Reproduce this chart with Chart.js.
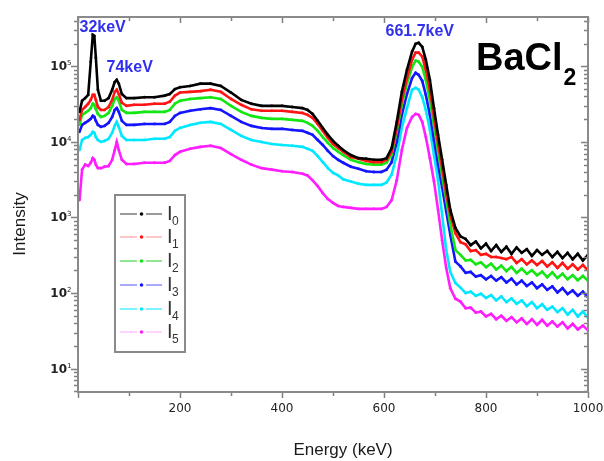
<!DOCTYPE html>
<html>
<head>
<meta charset="utf-8">
<title>BaCl2 gamma spectra</title>
<script src="https://cdn.jsdelivr.net/npm/chart.js@4.4.1/dist/chart.umd.min.js"></script>
<style>
  body { margin: 0; background: #fff; }
  #wrap { width: 604px; height: 461px; }
</style>
</head>
<body>
<div id="wrap"><canvas id="spectrum" width="604" height="461"></canvas></div>
<script>
// Energy channels (keV) shared by every spectrum
var energy = [3, 8, 14, 20, 25, 29, 32, 35, 39, 45, 52, 60, 67, 72, 76, 80, 86, 95,
  110, 130, 150, 170, 180, 190, 200, 220, 240, 260, 280, 300, 320, 340, 360, 380, 400, 420, 440,
  450, 460, 470, 480, 490, 500, 510, 520, 535, 550, 565, 580, 595,
  605, 615, 625, 635, 645, 655, 662, 668, 675, 682, 690, 698, 706, 714, 722, 730,
  740, 750, 760, 770, 780, 790, 800, 810, 820, 830, 840, 850, 860, 870, 880, 890, 900,
  910, 920, 930, 940, 950, 960, 970, 980, 990, 1000];

// Intensities
var i0 = [25000, 35000, 38000, 42000, 115000, 261000, 253000, 130000, 49000, 35000, 35000, 38000, 49000, 62000, 66000, 59000, 43000, 38000,
  38000, 39000, 39000, 41000, 43000, 50000, 53000, 55000, 59000, 59000, 55000, 45000, 36000, 32000, 30000, 30000, 30000, 29000, 28000,
  26500, 23500, 19000, 15300, 12400, 10300, 8900, 7800, 6700, 6100, 6000, 5800, 5800,
  6100, 8300, 18400, 46000, 90000, 156000, 199000, 205000, 181000, 122000, 66000, 28000, 12400, 5800, 2700, 1260,
  730, 560, 520, 430, 480, 390, 450, 360, 430, 350, 410, 330, 400, 340, 380, 310, 370,
  320, 360, 300, 350, 290, 340, 280, 330, 270, 320];
var i1 = [19600, 26500, 29000, 32000, 36000, 42000, 42000, 36000, 29000, 26500, 26500, 29000, 36000, 46000, 49000, 43000, 33000, 30000,
  31000, 31000, 32000, 32000, 34000, 41000, 45000, 46000, 47000, 49000, 46000, 37000, 31000, 27000, 25800, 25800, 25800, 25000, 24200,
  22800, 20800, 17300, 14000, 11300, 9400, 8300, 7400, 6300, 6000, 5600, 5400, 5400,
  5800, 7400, 15300, 36000, 70000, 122000, 152000, 152000, 134000, 90000, 49000, 21400, 9700, 4500, 2100, 1080,
  620, 470, 440, 360, 370, 320, 330, 300, 300, 290, 280, 300, 250, 280, 240, 270, 235,
  265, 225, 255, 215, 250, 210, 240, 205, 235, 200];
var i2 = [16800, 22800, 24200, 25800, 28000, 32000, 31000, 27000, 23500, 21400, 22100, 24200, 30000, 37000, 39000, 35000, 26500, 24200,
  24200, 25000, 25000, 25000, 26500, 32000, 35000, 37000, 38000, 39000, 37000, 30000, 25000, 22100, 20800, 20200, 20200, 19600, 19000,
  17900, 16300, 14000, 11600, 9700, 8300, 7400, 6700, 5800, 5400, 5100, 5000, 5000,
  5300, 6700, 13600, 31000, 59000, 98000, 119000, 115000, 98000, 66000, 36000, 16300, 7400, 3500, 1700, 800,
  370, 320, 270, 275, 240, 255, 220, 245, 205, 230, 195, 222, 185, 210, 180, 200, 172,
  192, 162, 188, 158, 180, 152, 172, 148, 168, 145];
var i3 = [13600, 16800, 17900, 19000, 20200, 22100, 21400, 19000, 16800, 15800, 16300, 17900, 21400, 26500, 28000, 25000, 19000, 16800,
  16800, 17300, 17300, 17300, 18400, 22100, 24200, 25800, 27000, 28000, 26500, 22100, 18400, 16300, 15300, 14900, 14900, 14400, 14000,
  13200, 12400, 10600, 9100, 7600, 6500, 5800, 5300, 4700, 4400, 4100, 4000, 4000,
  4300, 5400, 10000, 22800, 43000, 70000, 82000, 77000, 64000, 42000, 22800, 10600, 5000, 2500, 1200, 590,
  260, 225, 185, 190, 165, 172, 152, 168, 146, 162, 138, 155, 130, 146, 124, 138, 116,
  130, 110, 122, 102, 116, 97, 108, 92, 104, 88];
var i4 = [7800, 10600, 11300, 11600, 12400, 13600, 13200, 11600, 10600, 10000, 10300, 11000, 13200, 16300, 18400, 15800, 12000, 10600,
  10600, 10600, 11000, 11000, 11600, 14000, 15300, 16800, 17900, 18400, 17300, 14400, 12000, 10600, 10000, 9400, 9100, 8900, 8600,
  8100, 7600, 6500, 5400, 4500, 3900, 3600, 3200, 3000, 2800, 2700, 2700, 2700,
  2900, 3700, 6700, 15300, 28000, 49000, 52000, 49000, 39000, 26500, 14400, 6700, 3100, 1080, 370, 190,
  136, 118, 100, 104, 92, 98, 86, 94, 80, 90, 76, 85, 72, 80, 67, 76, 63,
  71, 60, 66, 56, 63, 52, 60, 49, 57, 47];
var i5 = [1700, 4300, 5000, 4800, 5300, 6100, 5800, 5000, 4500, 4500, 4700, 4800, 5800, 7800, 10000, 7800, 5800, 5100,
  5100, 5300, 5300, 5300, 5600, 6700, 7400, 8100, 8600, 8900, 8300, 6900, 5800, 5000, 4500, 4300, 4100, 4000, 3800,
  3600, 3100, 2600, 2100, 1750, 1560, 1420, 1380, 1340, 1300, 1300, 1300, 1300,
  1380, 1700, 3100, 7800, 15300, 21400, 23500, 22800, 18400, 11600, 6100, 3000, 1260, 500, 215, 116,
  84, 77, 63, 64, 55, 57, 49, 53, 45, 50, 43, 48, 41, 46, 39, 45, 38,
  44, 37, 42, 36, 41, 34, 39, 33, 37, 32];

var subscripts = ['0', '1', '2', '3', '4', '5'];
var xTickLabels = [200, 400, 600, 800, 1000];
var yDecades = [1, 2, 3, 4, 5];

var colors = ['#000000', '#ff1414', '#14e614', '#1414ff', '#00e8ff', '#ff1eff'];
var legendLine = ['#7a7a7a', '#ffb4b4', '#6be06b', '#8c8cff', '#55eeff', '#ffc8ff'];

function toPoints(vals) {
  return energy.map(function (e, i) { return { x: e, y: vals[i] }; });
}

var allSeries = [i0, i1, i2, i3, i4, i5];
var datasets = allSeries.map(function (vals, k) {
  return {
    label: 'I' + subscripts[k],
    data: toPoints(vals),
    borderColor: colors[k],
    backgroundColor: colors[k],
    borderWidth: 2.6,
    pointRadius: 1.4,
    pointBorderWidth: 0,
    tension: 0
  };
});

var peakNotes = [
  { text: '32keV', e: 3, v: 3.3e5 },
  { text: '74keV', e: 56, v: 9.6e4 },
  { text: '661.7keV', e: 603, v: 2.87e5 }
];

var decorations = {
  id: 'decorations',
  afterDraw: function (chart) {
    var ctx = chart.ctx, a = chart.chartArea;
    var xs = chart.scales.x, ys = chart.scales.y;
    ctx.save();

    // tick marks: outward on bottom/left, inward on top/right
    ctx.strokeStyle = '#808080';
    ctx.lineWidth = 1.5;
    ctx.beginPath();
    for (var v = 0; v <= 1000; v += 100) {
      var px = Math.round(xs.getPixelForValue(v)) + 0.5;
      var len = v % 200 ? 4 : 6;
      ctx.moveTo(px, a.bottom); ctx.lineTo(px, a.bottom + len);
      ctx.moveTo(px, a.top); ctx.lineTo(px, a.top + len);
    }
    for (var d = 0; d <= 5; d++) {
      for (var m = 1; m < 10; m++) {
        var tv = m * Math.pow(10, d);
        if (tv < ys.min || tv > ys.max) continue;
        var py = Math.round(ys.getPixelForValue(tv)) + 0.5;
        var tl = m === 1 ? 7 : 4;
        ctx.moveTo(a.left - tl, py); ctx.lineTo(a.left, py);
        ctx.moveTo(a.right - tl, py); ctx.lineTo(a.right, py);
      }
    }
    ctx.stroke();

    // frame
    ctx.lineWidth = 2;
    ctx.strokeStyle = '#8a8a8a';
    ctx.strokeRect(a.left, a.top, a.right - a.left, a.bottom - a.top);

    // x tick labels
    ctx.fillStyle = '#222';
    ctx.font = '12px "DejaVu Sans"';
    ctx.textAlign = 'center';
    ctx.textBaseline = 'middle';
    xTickLabels.forEach(function (t) {
      ctx.fillText(String(t), xs.getPixelForValue(t), 409);
    });

    // y tick labels 10^n
    yDecades.forEach(function (n) {
      var py = ys.getPixelForValue(Math.pow(10, n));
      ctx.textAlign = 'right';
      ctx.textBaseline = 'alphabetic';
      ctx.font = 'bold 12px "DejaVu Sans"';
      ctx.fillText('10', a.left - 11, py + 4);
      ctx.textAlign = 'left';
      ctx.font = '7px "DejaVu Sans"';
      ctx.fillText(String(n), a.left - 11, py - 1);
    });

    // axis titles
    ctx.fillStyle = '#1a1a1a';
    ctx.font = '17px "Liberation Sans"';
    ctx.textAlign = 'center';
    ctx.textBaseline = 'middle';
    ctx.fillText('Energy (keV)', 343, 450);
    ctx.save();
    ctx.translate(20, 224);
    ctx.rotate(-Math.PI / 2);
    ctx.fillText('Intensity', 0, 0);
    ctx.restore();

    // peak labels
    ctx.fillStyle = '#3030ee';
    ctx.font = 'bold 16px "Liberation Sans"';
    ctx.textAlign = 'left';
    peakNotes.forEach(function (p) {
      ctx.fillText(p.text, xs.getPixelForValue(p.e), ys.getPixelForValue(p.v));
    });

    // compound name
    ctx.fillStyle = '#000';
    ctx.textBaseline = 'alphabetic';
    ctx.font = 'bold 38px "Liberation Sans"';
    ctx.fillText('BaCl', 476, 70);
    var w = ctx.measureText('BaCl').width;
    ctx.font = 'bold 23px "Liberation Sans"';
    ctx.fillText('2', 476 + w + 1, 85);

    // legend
    var bx = 115, by = 195, bw = 70, bh = 157;
    ctx.fillStyle = '#fff';
    ctx.fillRect(bx, by, bw, bh);
    ctx.strokeStyle = '#8a8a8a';
    ctx.lineWidth = 2;
    ctx.strokeRect(bx, by, bw, bh);
    var rows = [214, 237, 261, 285, 309, 332];
    rows.forEach(function (ry, k) {
      ctx.strokeStyle = legendLine[k];
      ctx.lineWidth = 1.3;
      ctx.beginPath();
      ctx.moveTo(120, ry); ctx.lineTo(137, ry);
      ctx.moveTo(146, ry); ctx.lineTo(162, ry);
      ctx.stroke();
      ctx.fillStyle = colors[k];
      ctx.beginPath();
      ctx.arc(141.5, ry, 1.8, 0, Math.PI * 2);
      ctx.fill();
      ctx.fillStyle = '#333';
      ctx.textAlign = 'left';
      ctx.textBaseline = 'alphabetic';
      ctx.font = '20px "Liberation Sans"';
      ctx.fillText('I', 167, ry + 6);
      ctx.font = '12px "Liberation Sans"';
      ctx.fillText(subscripts[k], 172, ry + 11);
    });

    ctx.restore();
  }
};

new Chart(document.getElementById('spectrum').getContext('2d'), {
  type: 'line',
  data: { datasets: datasets },
  options: {
    responsive: false,
    animation: false,
    layout: { padding: { left: 0, top: 17, right: 16, bottom: 0 } },
    plugins: { legend: { display: false }, tooltip: { enabled: false } },
    scales: {
      x: {
        type: 'linear', min: 0, max: 1000,
        grid: { display: false }, border: { display: false },
        ticks: { display: false },
        afterFit: function (s) { s.height = 69; }
      },
      y: {
        type: 'logarithmic', min: 4.9, max: 4.5e5,
        grid: { display: false }, border: { display: false },
        ticks: { display: false },
        afterFit: function (s) { s.width = 78; }
      }
    }
  },
  plugins: [decorations]
});
</script>
</body>
</html>
